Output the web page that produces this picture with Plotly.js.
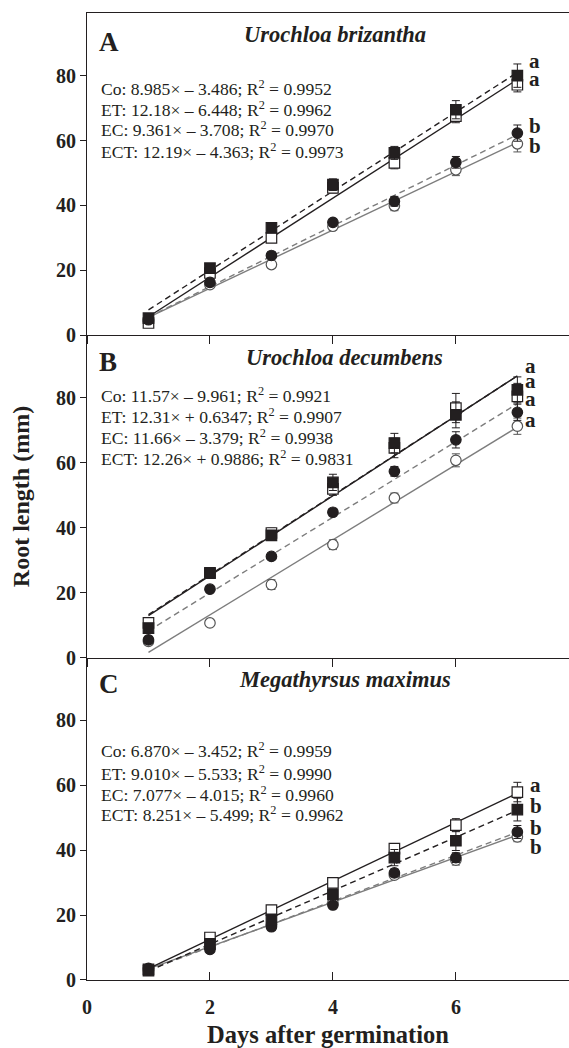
<!DOCTYPE html>
<html>
<head>
<meta charset="utf-8">
<script src="https://cdn.plot.ly/plotly-3.0.1.min.js"></script>
<style>html,body{margin:0;padding:0;background:#fff;}#chart{width:569px;height:1048px;}</style>
</head>
<body>
<div id="chart"></div>
<script>
// ---------- data ----------
const days = [1, 2, 3, 4, 5, 6, 7];
const treatments = ["Co", "ET", "EC", "ECT"];
const panelLetters = ["A", "B", "C"];
const species = ["Urochloa brizantha", "Urochloa decumbens", "Megathyrsus maximus"];

// mean root length (mm)
const A_Co  = [4.3, 15.6, 21.8, 33.6, 39.9, 51.0, 59.0];
const A_ET  = [3.8, 19.2, 30.0, 45.4, 53.1, 67.5, 77.2];
const A_EC  = [4.8, 16.3, 24.6, 34.8, 41.3, 53.3, 62.3];
const A_ECT = [5.3, 20.7, 33.1, 46.4, 56.2, 69.5, 80.0];

const B_Co  = [5.0, 10.7, 22.5, 34.8, 49.2, 60.8, 71.3];
const B_ET  = [10.7, 26.0, 38.4, 52.0, 64.6, 76.9, 80.5];
const B_EC  = [5.5, 21.1, 31.2, 44.8, 57.4, 67.1, 75.6];
const B_ECT = [9.1, 26.1, 37.7, 54.0, 66.1, 74.8, 82.5];

const C_Co  = [3.0, 10.3, 16.9, 23.8, 32.3, 36.9, 44.1];
const C_ET  = [3.3, 13.1, 21.5, 29.9, 40.5, 47.7, 57.9];
const C_EC  = [3.6, 9.4, 16.4, 23.1, 33.0, 37.7, 45.6];
const C_ECT = [2.9, 11.1, 18.7, 26.4, 37.7, 42.9, 52.5];

// standard errors (mm)
const A_Co_err  = [0.5, 0.8, 0.8, 1.0, 1.5, 1.8, 2.5];
const A_ET_err  = [0.8, 1.0, 1.0, 1.5, 1.8, 2.0, 2.2];
const A_EC_err  = [0.6, 0.8, 1.0, 1.0, 1.5, 1.8, 2.5];
const A_ECT_err = [0.8, 1.0, 1.2, 1.8, 2.0, 2.8, 3.6];

const B_Co_err  = [0.8, 1.0, 1.5, 1.5, 1.5, 2.0, 2.5];
const B_ET_err  = [1.0, 1.0, 1.5, 2.0, 3.0, 4.5, 4.0];
const B_EC_err  = [1.0, 1.0, 1.0, 1.0, 1.5, 2.5, 2.5];
const B_ECT_err = [1.0, 1.0, 1.5, 2.5, 3.0, 4.0, 4.0];

const C_Co_err  = [0.5, 0.8, 0.8, 1.0, 1.0, 1.5, 1.5];
const C_ET_err  = [0.8, 1.0, 1.0, 1.0, 1.5, 2.0, 3.0];
const C_EC_err  = [0.5, 0.8, 1.0, 1.0, 1.2, 1.5, 2.0];
const C_ECT_err = [0.5, 1.0, 1.0, 1.5, 2.5, 3.0, 3.5];

// linear regressions (slope, intercept, R2) in order Co, ET, EC, ECT
const A_slope = [8.985, 12.18, 9.361, 12.19];
const A_inter = [-3.486, -6.448, -3.708, -4.363];
const A_r2    = [0.9952, 0.9962, 0.9970, 0.9973];

const B_slope = [11.57, 12.31, 11.66, 12.26];
const B_inter = [-9.961, 0.6347, -3.379, 0.9886];
const B_r2    = [0.9921, 0.9907, 0.9938, 0.9831];

const C_slope = [6.870, 9.010, 7.077, 8.251];
const C_inter = [-3.452, -5.533, -4.015, -5.499];
const C_r2    = [0.9959, 0.9990, 0.9960, 0.9962];

// significance letters (top to bottom)
const A_sig = ["a", "a", "b", "b"];
const A_sigY = [84.4, 79.0, 64.4, 58.2];
const B_sig = ["a", "a", "a", "a"];
const B_sigY = [89.9, 85.1, 79.8, 73.3];
const C_sig = ["a", "b", "b", "b"];
const C_sigY = [60.0, 53.6, 46.7, 41.0];

const yTicks = [0, 20, 40, 60, 80];
const xTicks = [0, 2, 4, 6];

// ---------- styles ----------
const INK = "#231f20";
const GRAY = "#7d7d7d";
const SERIF = "Liberation Serif, Times New Roman, serif";
const style = {
  Co:  {line: GRAY, dash: "solid", symbol: "circle", fill: "#ffffff", edge: "#555555"},
  ET:  {line: INK,  dash: "solid", symbol: "square", fill: "#ffffff", edge: INK},
  EC:  {line: GRAY, dash: "6px,4px", symbol: "circle", fill: INK, edge: INK},
  ECT: {line: INK,  dash: "6px,4px", symbol: "square", fill: INK, edge: INK}
};

const panels = [
  {means: [A_Co, A_ET, A_EC, A_ECT], errs: [A_Co_err, A_ET_err, A_EC_err, A_ECT_err],
   slope: A_slope, inter: A_inter, r2: A_r2, sig: A_sig, sigY: A_sigY, sigX: 7.16,
   xa: "x3", ya: "y3", eqY: [76.2, 69.8, 63.6, 56.8], titleX: 4.03},
  {means: [B_Co, B_ET, B_EC, B_ECT], errs: [B_Co_err, B_ET_err, B_EC_err, B_ECT_err],
   slope: B_slope, inter: B_inter, r2: B_r2, sig: B_sig, sigY: B_sigY, sigX: 7.09,
   xa: "x2", ya: "y2", eqY: [80.9, 74.5, 68.0, 61.5], titleX: 4.19},
  {means: [C_Co, C_ET, C_EC, C_ECT], errs: [C_Co_err, C_ET_err, C_EC_err, C_ECT_err],
   slope: C_slope, inter: C_inter, r2: C_r2, sig: C_sig, sigY: C_sigY, sigX: 7.18,
   xa: "x", ya: "y", eqY: [70.8, 63.9, 57.4, 51.0], titleX: 4.2}
];

function fmtEq(name, s, b, r) {
  const sign = b < 0 ? "\u2013" : "+";
  return name + ": " + s.toPrecision(4) + "\u00d7 " + sign + " " + Math.abs(b).toPrecision(4) +
         "; R<sup>2</sup> = " + r.toFixed(4);
}

const traces = [];
const annotations = [];

panels.forEach(function (p, pi) {
  // regression lines
  treatments.forEach(function (t, ti) {
    const xs = [days[0], days[days.length - 1]];
    traces.push({
      x: xs, y: xs.map(function (d) { return p.slope[ti] * d + p.inter[ti]; }),
      xaxis: p.xa, yaxis: p.ya, mode: "lines", type: "scatter", showlegend: false, hoverinfo: "skip",
      line: {color: style[t].line, width: 1.4, dash: style[t].dash}
    });
  });
  // open markers first, filled on top
  [0, 1, 2, 3].forEach(function (ti) {
    const t = treatments[ti];
    traces.push({
      x: days, y: p.means[ti], xaxis: p.xa, yaxis: p.ya, mode: "markers", type: "scatter",
      showlegend: false, name: t,
      marker: {symbol: style[t].symbol, size: 10.5, color: style[t].fill,
               line: {color: style[t].edge, width: 1.2}},
      error_y: {type: "data", array: p.errs[ti], visible: true, color: style[t].edge, thickness: 1, width: 4}
    });
  });
  // equations
  treatments.forEach(function (t, ti) {
    annotations.push({
      xref: p.xa, yref: p.ya, x: 0.19, y: p.eqY[ti], xanchor: "left", yanchor: "middle",
      showarrow: false, text: fmtEq(t, p.slope[ti], p.inter[ti], p.r2[ti]),
      font: {family: SERIF, size: 17.6, color: INK}
    });
  });
  // panel letter and species title
  annotations.push({
    xref: p.xa, yref: p.ya, x: 0.17, y: pi === 0 ? 90.4 : 91.2, xanchor: "left", yanchor: "middle",
    showarrow: false, text: "<b>" + panelLetters[pi] + "</b>",
    font: {family: SERIF, size: 27, color: INK}
  });
  annotations.push({
    xref: p.xa, yref: p.ya, x: p.titleX, y: 92.6, xanchor: "center", yanchor: "middle",
    showarrow: false, text: "<b><i>" + species[pi] + "</i></b>",
    font: {family: SERIF, size: 22.5, color: INK}
  });
  // significance letters
  p.sig.forEach(function (s, si) {
    annotations.push({
      xref: p.xa, yref: p.ya, x: p.sigX, y: p.sigY[si], xanchor: "left", yanchor: "middle",
      showarrow: false, text: "<b>" + s + "</b>",
      font: {family: SERIF, size: 21, color: INK}
    });
  });
});

const YR = [0, 99.3];
const XR = [0, 7.84];
function yax(domain, extra) {
  return Object.assign({
    domain: domain, range: YR, tickvals: yTicks, ticks: "outside", ticklen: 6, tickwidth: 1,
    tickcolor: INK, showline: true, linecolor: INK, linewidth: 1, showgrid: false, zeroline: false,
    tickfont: {family: SERIF, size: 20, color: INK, weight: "bold"}, fixedrange: true
  }, extra || {});
}
function xax(anchor, extra) {
  return Object.assign({
    anchor: anchor, range: XR, tickvals: xTicks, showline: true, linecolor: INK, linewidth: 1,
    showgrid: false, zeroline: false, tickcolor: INK, tickwidth: 1, fixedrange: true
  }, extra || {});
}

const layout = {
  width: 569, height: 1048,
  margin: {l: 87, r: 0, t: 13, b: 68},
  paper_bgcolor: "#ffffff", plot_bgcolor: "#ffffff",
  showlegend: false,
  font: {family: SERIF, color: INK},
  xaxis: xax("y", {ticks: "inside", ticklen: 8, showticklabels: true, ticklabelstandoff: 9,
    tickfont: {family: SERIF, size: 20, color: INK, weight: "bold"},
    title: {text: "<b>Days after germination</b>", font: {family: SERIF, size: 24.5, color: INK}, standoff: 11}}),
  xaxis2: xax("y2", {ticks: "outside", ticklen: 8, showticklabels: false}),
  xaxis3: xax("y3", {ticks: "outside", ticklen: 8, showticklabels: false, mirror: true}),
  yaxis: yax([0, 1 / 3]),
  yaxis2: yax([1 / 3, 2 / 3], {title: {text: "<b>Root length (mm)</b>", font: {family: SERIF, size: 24, color: INK}, standoff: 19}}),
  yaxis3: yax([2 / 3, 1]),
  annotations: annotations
};

Plotly.newPlot("chart", traces, layout, {staticPlot: true, displayModeBar: false});
</script>
</body>
</html>
